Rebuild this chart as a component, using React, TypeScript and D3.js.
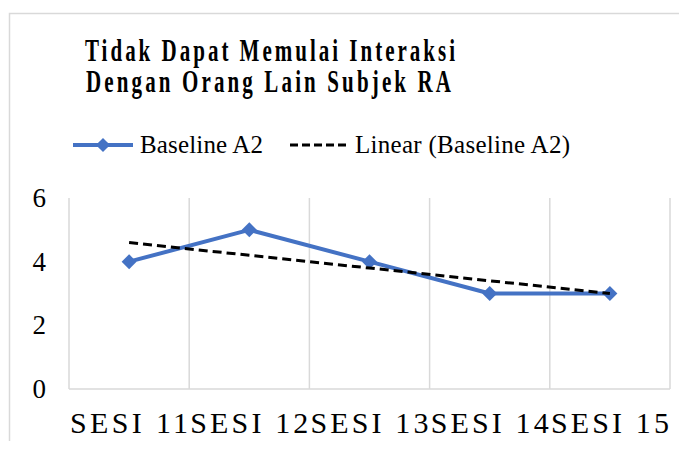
import { useEffect, useRef } from "react";
import * as d3 from "d3";

const categories = ["SESI 11", "SESI 12", "SESI 13", "SESI 14", "SESI 15"];
const baselineA2 = [4, 5, 4, 3, 3];
const yTicks = [0, 2, 4, 6];
const titleLines = ["Tidak Dapat Memulai Interaksi", "Dengan Orang Lain Subjek RA"];

const BLUE = "#4472C4";
const GRID = "#d9d9d9";
const FONT = "'Liberation Serif', 'Times New Roman', serif";

export default function App() {
  const svgRef = useRef<SVGSVGElement>(null);

  useEffect(() => {
    if (!svgRef.current) return;
    const svg = d3.select(svgRef.current);
    svg.selectAll("*").remove();

    const left = 69;
    const right = 670;
    const top = 198;
    const bottom = 389;

    const x = d3.scaleBand().domain(categories).range([left, right]);
    const y = d3.scaleLinear().domain([0, 6]).range([bottom, top]);
    const cx = (c: string) => (x(c) || 0) + x.bandwidth() / 2;

    // chart frame
    svg
      .append("rect")
      .attr("x", 9.5)
      .attr("y", 13.5)
      .attr("width", 700)
      .attr("height", 460)
      .attr("fill", "#fff")
      .attr("stroke", GRID)
      .attr("stroke-width", 1.5);

    // title (tall, letter-spaced)
    const title = svg.append("g").attr("font-family", FONT).attr("font-weight", "bold");
    titleLines.forEach((t, i) => {
      title
        .append("text")
        .attr("transform", `translate(${i === 0 ? 85 : 86}, ${61 + i * 31}) scale(1, 1.55)`)
        .attr("font-size", 21)
        .attr("textLength", i === 0 ? 370 : 365)
        .attr("lengthAdjust", "spacing")
        .attr("fill", "#000")
        .text(t);
    });

    // legend
    const lg = svg.append("g").attr("font-family", FONT).attr("font-size", 25);
    lg.append("line")
      .attr("x1", 73).attr("x2", 133).attr("y1", 145).attr("y2", 145)
      .attr("stroke", BLUE).attr("stroke-width", 4);
    lg.append("path")
      .attr("d", d3.symbol(d3.symbolSquare, 100)()!)
      .attr("transform", "translate(103,145) rotate(45)")
      .attr("fill", BLUE);
    lg.append("text").attr("x", 140).attr("y", 153).attr("textLength", 123).text("Baseline A2");
    lg.append("line")
      .attr("x1", 290).attr("x2", 348).attr("y1", 145).attr("y2", 145)
      .attr("stroke", "#000").attr("stroke-width", 3)
      .attr("stroke-dasharray", "8,4");
    lg.append("text").attr("x", 355).attr("y", 153).attr("textLength", 215).text("Linear (Baseline A2)");

    // vertical gridlines at category boundaries
    const bounds = categories.map((c) => x(c) || 0).concat([right]);
    svg
      .append("g")
      .selectAll("line")
      .data(bounds)
      .enter()
      .append("line")
      .attr("x1", (d) => d)
      .attr("x2", (d) => d)
      .attr("y1", top)
      .attr("y2", bottom)
      .attr("stroke", GRID)
      .attr("stroke-width", 1.5);

    svg
      .append("line")
      .attr("x1", left)
      .attr("x2", right)
      .attr("y1", bottom)
      .attr("y2", bottom)
      .attr("stroke", GRID)
      .attr("stroke-width", 1.5);

    // y labels
    svg
      .append("g")
      .selectAll("text")
      .data(yTicks)
      .enter()
      .append("text")
      .attr("x", 46)
      .attr("y", (d) => y(d) + 9)
      .attr("text-anchor", "end")
      .attr("font-family", FONT)
      .attr("font-size", 27)
      .text((d) => d);

    // x labels
    svg
      .append("g")
      .selectAll("text")
      .data(categories)
      .enter()
      .append("text")
      .attr("x", (d) => cx(d) - 59)
      .attr("y", 433)
      .attr("font-family", FONT)
      .attr("font-size", 30)
      .attr("textLength", 118)
      .attr("lengthAdjust", "spacing")
      .text((d) => d);

    // linear trend
    const n = baselineA2.length;
    const xs = d3.range(1, n + 1);
    const mx = d3.mean(xs)!;
    const my = d3.mean(baselineA2)!;
    const slope =
      d3.sum(xs, (xi, i) => (xi - mx) * (baselineA2[i] - my)) /
      d3.sum(xs, (xi) => (xi - mx) ** 2);
    const trend = xs.map((xi) => my + slope * (xi - mx));

    // series line
    const line = d3
      .line<number>()
      .x((_, i) => cx(categories[i]))
      .y((d) => y(d));

    svg
      .append("path")
      .datum(baselineA2)
      .attr("d", line)
      .attr("fill", "none")
      .attr("stroke", BLUE)
      .attr("stroke-width", 4)
      .attr("stroke-linejoin", "round");

    svg
      .append("g")
      .selectAll("path")
      .data(baselineA2)
      .enter()
      .append("path")
      .attr("d", d3.symbol(d3.symbolSquare, 112)()!)
      .attr("transform", (d, i) => `translate(${cx(categories[i])},${y(d)}) rotate(45)`)
      .attr("fill", BLUE);

    svg
      .append("path")
      .datum(trend)
      .attr("d", line)
      .attr("fill", "none")
      .attr("stroke", "#000")
      .attr("stroke-width", 3)
      .attr("stroke-dasharray", "9,5");
  }, []);

  return (
    <div style={{ margin: -8 }}>
      <svg ref={svgRef} width={687} height={449} style={{ display: "block" }} />
    </div>
  );
}
